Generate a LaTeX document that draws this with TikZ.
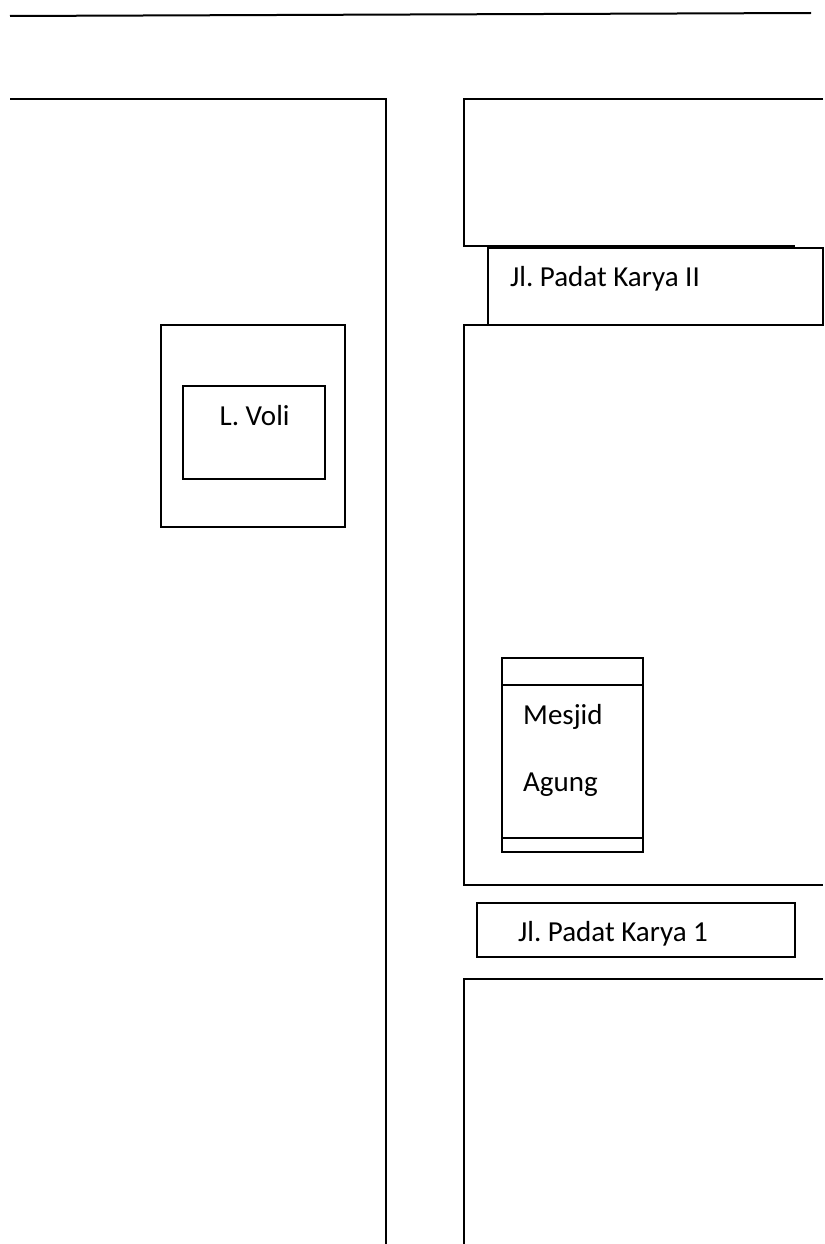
\documentclass[tikz,border=0pt]{standalone}
\usepackage{fontspec}
\setmainfont{Carlito}
\tikzset{
  plan/.style={draw=black,line width=1.3pt,line cap=butt,line join=miter},
  thick plan/.style={draw=black,line width=2pt},
  lbl/.style={inner sep=0pt,anchor=base west,text=black,font=\fontsize{29}{33}\selectfont\frenchspacing}
}
\begin{document}
\begin{tikzpicture}[x=1pt,y=-1pt]
\useasboundingbox (0,0) rectangle (824,1244);
\draw[thick plan] (10,16) -- (811,13);
\draw[plan] (10,99) -- (386,99) -- (386,1244);
\draw[plan] (823,99) -- (464,99) -- (464,246) -- (795,246);
\draw[plan] (488,248) rectangle (823,325);
\draw[plan] (795,325) -- (464,325) -- (464,885) -- (823,885);
\draw[plan] (477,903) rectangle (795,957);
\draw[plan] (823,979) -- (464,979) -- (464,1244);
\draw[plan] (161,325) rectangle (345,527);
\draw[plan] (183,386) rectangle (325,479);
\draw[plan] (502,658) rectangle (643,852);
\draw[plan] (502,685) -- (643,685);
\draw[plan] (502,838) -- (643,838);
\node[lbl] (voli) at (219.5,425.5) {L. Voli};
\node[lbl] (jl2) at (510,286) {Jl. Padat Karya II};
\node[lbl] (jl1) at (518,941.5) {Jl. Padat Karya 1};
\node[lbl] (mesjid) at (523,724) {Mesjid};
\node[lbl] (agung) at (523,791) {Agung};
\end{tikzpicture}
\end{document}
